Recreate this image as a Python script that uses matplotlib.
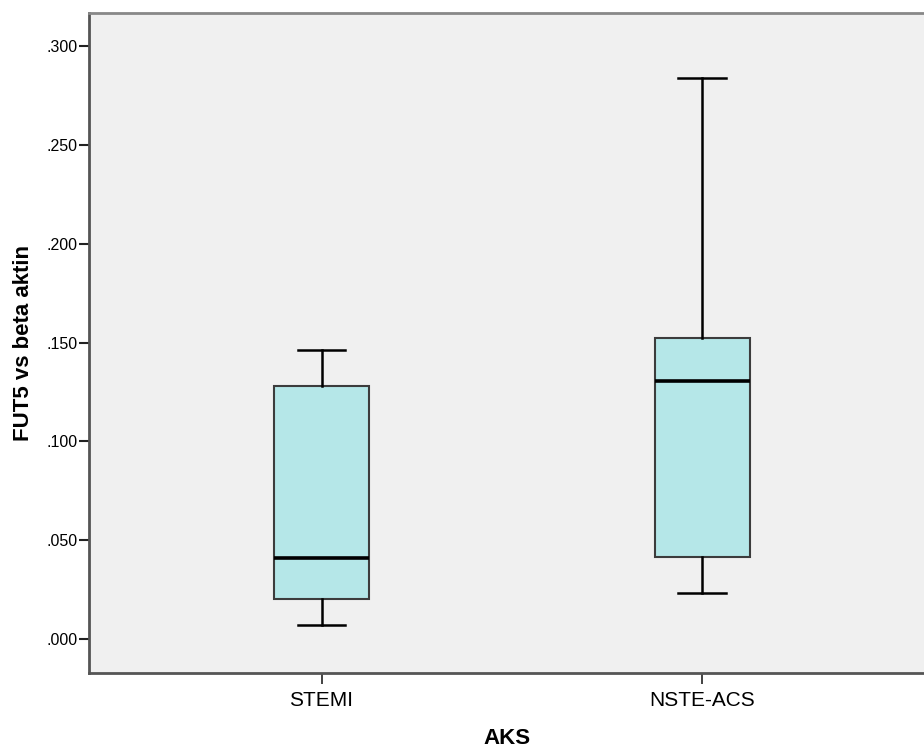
import matplotlib.pyplot as plt
import numpy as np

plt.rcParams['font.family'] = ['Liberation Sans', 'DejaVu Sans']

# Box plot summary values
categories = ["STEMI", "NSTE-ACS"]
whisker_low = [0.0072, 0.0231]
q1 = [0.0202, 0.0415]
median = [0.0408, 0.1305]
q3 = [0.1281, 0.1521]
whisker_high = [0.1462, 0.2840]

ytick_values = [0.000, 0.050, 0.100, 0.150, 0.200, 0.250, 0.300]

stats = []
for i in range(len(categories)):
    stats.append({
        "label": categories[i],
        "whislo": whisker_low[i],
        "q1": q1[i],
        "med": median[i],
        "q3": q3[i],
        "whishi": whisker_high[i],
        "fliers": [],
    })

fig = plt.figure(figsize=(9.24, 7.49), dpi=100)
ax = fig.add_axes([89/924, 76/749, 1 - 89/924, (673 - 13)/749])
ax.set_facecolor("#f0f0f0")

positions = np.arange(1, len(categories) + 1)
ax.bxp(stats, positions=positions, widths=0.25, patch_artist=True,
       showfliers=False,
       boxprops=dict(facecolor="#b5e7e8", edgecolor="#3c3c3c", linewidth=1.5),
       medianprops=dict(color="black", linewidth=2.6),
       whiskerprops=dict(color="black", linewidth=1.8),
       capprops=dict(color="black", linewidth=1.8),
       capwidths=0.125)

ax.set_xlim(1 - 0.611, 2 + 0.583)
ax.set_ylim(-0.0172, 0.3167)

ax.set_yticks(ytick_values)
ax.set_yticklabels(["." + ("%.3f" % v).split(".")[1] for v in ytick_values], fontsize=11.5)
ax.set_xticks(positions)
ax.set_xticklabels(categories, fontsize=15)

ax.tick_params(axis="y", length=7.5, width=1.5, pad=1, color="#222222")
ax.tick_params(axis="x", length=8, width=1.2, pad=5, color="#222222")

for side in ["left", "bottom"]:
    ax.spines[side].set_color("#555555")
    ax.spines[side].set_linewidth(2.0)
ax.spines["top"].set_color("#888888")
ax.spines["top"].set_linewidth(2.0)
ax.spines["right"].set_visible(False)

ax.set_xlabel("AKS", fontsize=16, fontweight="bold", labelpad=13)
ax.set_ylabel("FUT5 vs beta aktin", fontsize=16, fontweight="bold", labelpad=9)

fig.savefig("out.png", dpi=100)
